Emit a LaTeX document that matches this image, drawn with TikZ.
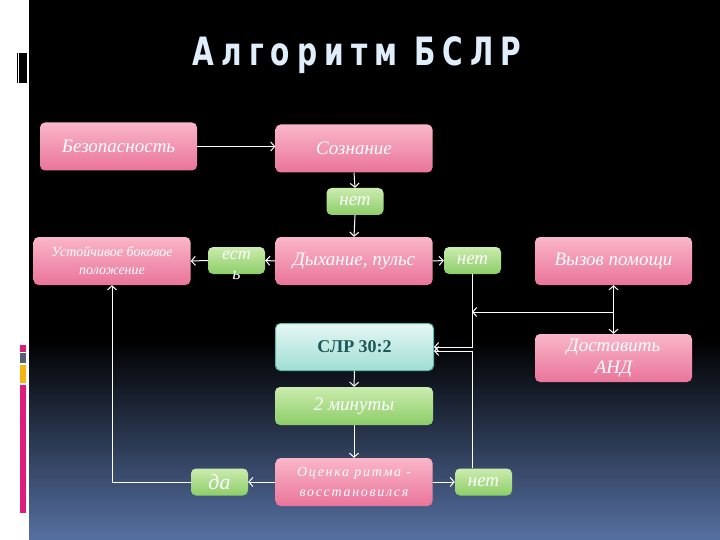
\documentclass[tikz,border=0pt]{standalone}
\usepackage{fontspec}
\usetikzlibrary{arrows.meta}
\newfontfamily\boxfont{Liberation Serif}
\newfontfamily\spacedfont[LetterSpace=12]{Liberation Serif}
\newfontfamily\titlefont[LetterSpace=18,FakeStretch=0.72]{DejaVu Sans}
\definecolor{pinktop}{RGB}{250,182,201}
\definecolor{pinkbot}{RGB}{233,116,154}
\definecolor{greentop}{RGB}{203,236,174}
\definecolor{greenbot}{RGB}{140,205,104}
\definecolor{cprtop}{RGB}{230,247,244}
\definecolor{cprbot}{RGB}{160,222,212}
\definecolor{cpredge}{RGB}{92,186,170}
\definecolor{cprtext}{RGB}{28,88,88}
\definecolor{bgblue}{RGB}{86,112,162}
\definecolor{titleblue}{RGB}{224,238,252}
\definecolor{barmag}{RGB}{222,28,122}
\definecolor{bargray}{RGB}{88,98,110}
\definecolor{barorange}{RGB}{246,180,20}
\begin{document}
\begin{tikzpicture}[x=1pt,y=-1pt,>={Straight Barb[length=4pt,width=9pt]},
  box/.style={rounded corners=5pt,text=white,align=center,inner sep=2pt,
    font=\boxfont\itshape\fontsize{19}{22}\selectfont},
  pinkbox/.style={box,top color=pinktop,bottom color=pinkbot,minimum width=157pt,minimum height=48pt},
  greenbox/.style={box,top color=greentop,bottom color=greenbot,minimum width=57pt,minimum height=27pt},
  cprbox/.style={box,top color=cprtop,bottom color=cprbot,draw=cpredge,line width=1pt,
    minimum width=158pt,minimum height=47pt,text=cprtext,font=\boxfont\bfseries\fontsize{18}{20}\selectfont},
  link/.style={white,line width=1pt,->}]
  \useasboundingbox (0,0) rectangle (720,540);
  % background and side strip
  \fill[white] (0,0) rectangle (29,540);
  \fill[black] (29,0) rectangle (720,540);
  \shade[top color=black,bottom color=bgblue] (29,340) rectangle (720,540);
  \fill[black] (17,53) rectangle (18,83);
  \fill[black] (19,53) rectangle (27,83);
  \fill[barmag] (20,345) rectangle (26,352);
  \fill[bargray] (20,353) rectangle (26,363);
  \fill[barorange] (20,365) rectangle (26,383);
  \fill[barmag] (20,385) rectangle (26,513);
  \node[text=titleblue,font=\titlefont\bfseries\fontsize{39}{44}\selectfont] (title) at (357,55) {Алгоритм БСЛР};
  % boxes
  \node[pinkbox] (bez) at (118.5,146.5) {Безопасность};
  \node[pinkbox] (soz) at (354,148.5) {Сознание};
  \node[greenbox] (net1) at (355,201.5) {нет};
  \node[pinkbox,font=\boxfont\itshape\fontsize{14}{18}\selectfont] (ustoy) at (112,261) {Устойчивое боковое\\положение};
  \node[greenbox] (est) at (236.5,260.5) {};
  \node[text=white,align=center,font=\boxfont\itshape\fontsize{18}{20}\selectfont] (esttext) at (236.5,265) {ест\\ь};
  \node[pinkbox] (dyh) at (354,261) {Дыхание, пульс};
  \node[greenbox] (net2) at (472.5,260.5) {нет};
  \node[pinkbox] (vyz) at (613.5,261) {Вызов помощи};
  \node[cprbox] (slr) at (354.5,347) {СЛР 30:2};
  \node[pinkbox] (dost) at (613.5,358) {Доставить\\АНД};
  \node[greenbox,minimum width=158pt,minimum height=38pt] (min2) at (354,406) {2 минуты};
  \node[pinkbox,font=\spacedfont\itshape\fontsize{14}{20}\selectfont] (ocen) at (354,482) {Оценка ритма -\\восстановился};
  \node[greenbox,font=\boxfont\itshape\fontsize{22}{24}\selectfont] (da) at (219.5,482) {да};
  \node[greenbox] (net3) at (483.5,482) {нет};
  % connectors
  \coordinate (up) at (472,347);
  \coordinate (low) at (472,351);
  \coordinate (call) at (472,312);
  \coordinate (callr) at (613.5,312);
  \draw[link] (bez.east) -- (bez.east -| soz.west);
  \draw[link] (soz.south) -- (net1.north);
  \draw[link] (net1.south) -- (dyh.north);
  \draw[link] (dyh.west) -- (est.east);
  \draw[link] (est.west) -- (ustoy.east);
  \draw[link] (dyh.east) -- (net2.west);
  \draw[link] (up |- net2.south) -- (up) -- (up -| slr.east);
  \draw[link] (low |- net3.north) -- (low) -- (low -| slr.east);
  \draw[link] (callr) -- (call);
  \draw[link,<->] (vyz.south) -- (dost.north);
  \draw[link] (slr.south) -- (min2.north);
  \draw[link] (min2.south) -- (ocen.north);
  \draw[link] (ocen.west) -- (da.east);
  \draw[link] (ocen.east) -- (net3.west);
  \draw[link] (da.west) -| (ustoy.south);
\end{tikzpicture}
\end{document}
